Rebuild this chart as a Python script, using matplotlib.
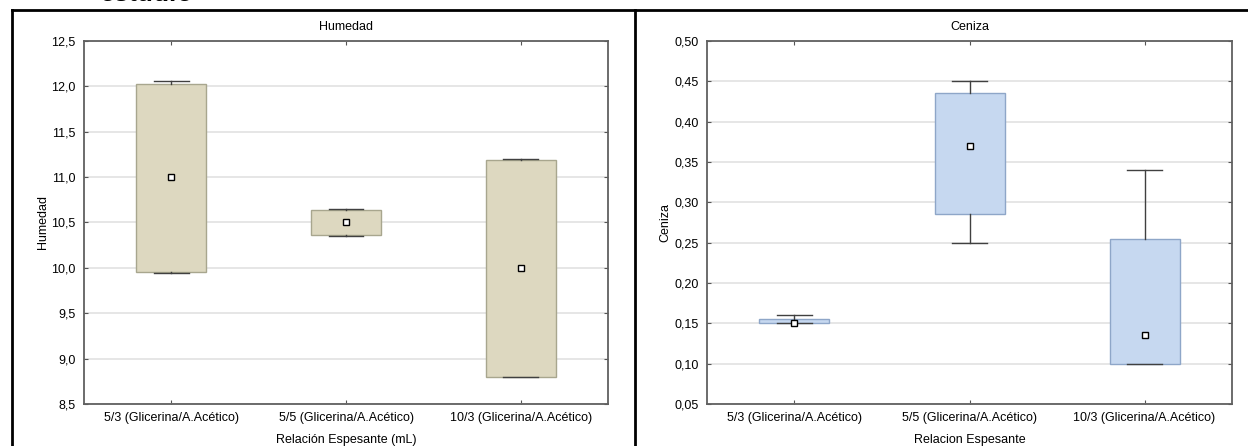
import matplotlib.pyplot as plt
from matplotlib.lines import Line2D
from matplotlib.ticker import FuncFormatter

plt.rcParams['font.family'] = ['Liberation Sans', 'DejaVu Sans']

grupos = ['5/3 (Glicerina/A.Acético)', '5/5 (Glicerina/A.Acético)', '10/3 (Glicerina/A.Acético)']

# Humedad: punto central, caja y rango
hum_centro = [11.0, 10.5, 10.0]
hum_q1 = [9.95, 10.36, 8.80]
hum_q3 = [12.03, 10.64, 11.19]
hum_min = [9.94, 10.35, 8.80]
hum_max = [12.06, 10.65, 11.20]

# Ceniza
cen_centro = [0.15, 0.37, 0.135]
cen_q1 = [0.15, 0.285, 0.10]
cen_q3 = [0.155, 0.435, 0.255]
cen_min = [0.15, 0.25, 0.10]
cen_max = [0.16, 0.45, 0.34]


def caja(ax, centro, q1, q3, lo, hi, relleno, borde):
    stats = [dict(med=c, q1=a, q3=b, whislo=l, whishi=h)
             for c, a, b, l, h in zip(centro, q1, q3, lo, hi)]
    ax.bxp(stats, positions=[1, 2, 3], widths=0.4, capwidths=0.2,
           showfliers=False, patch_artist=True,
           boxprops=dict(facecolor=relleno, edgecolor=borde, linewidth=1),
           whiskerprops=dict(color='#404040', linewidth=1),
           capprops=dict(color='#404040', linewidth=1),
           medianprops=dict(linewidth=0), zorder=3)
    ax.plot([1, 2, 3], centro, ls='none', marker='s', ms=4.5, mfc='white',
            mec='black', mew=1, zorder=4)


def estilo(ax, titulo, ylab, xlab, lims, paso, fmt):
    ax.set_xlim(0.5, 3.5)
    ax.set_ylim(*lims)
    n = round((lims[1] - lims[0]) / paso)
    ax.set_yticks([lims[0] + i * paso for i in range(n + 1)])
    ax.yaxis.set_major_formatter(FuncFormatter(lambda v, p: (fmt % v).replace('.', ',')))
    ax.set_xticks([1, 2, 3], grupos)
    ax.grid(axis='y', color='#e2e2e2', linewidth=1.2, zorder=0)
    ax.set_axisbelow(True)
    ax.tick_params(direction='in', length=3, top=True, right=True,
                   labelsize=9, color='#555555', pad=6)
    for s in ax.spines.values():
        s.set_color('#606060')
        s.set_linewidth(1.3)
    ax.set_title(titulo, fontsize=9, pad=8)
    ax.set_ylabel(ylab, fontsize=9, labelpad=2)
    ax.set_xlabel(xlab, fontsize=9, labelpad=7)


fig = plt.figure(figsize=(12.48, 4.46), dpi=100)
ax1 = fig.add_axes([0.0673, 0.0942, 0.4199, 0.8139])
ax2 = fig.add_axes([0.5665, 0.0942, 0.4207, 0.8139])

caja(ax1, hum_centro, hum_q1, hum_q3, hum_min, hum_max, '#ddd8c0', '#a8a68e')
estilo(ax1, 'Humedad', 'Humedad', 'Relación Espesante (mL)', (8.5, 12.5), 0.5, '%.1f')

caja(ax2, cen_centro, cen_q1, cen_q3, cen_min, cen_max, '#c6d8f0', '#8ea6c8')
estilo(ax2, 'Ceniza', 'Ceniza', 'Relacion Espesante', (0.05, 0.50), 0.05, '%.2f')

# bordes de la tabla del documento
W, H = 1248, 446
bordes = [((12, 1247), (10, 10)), ((12, 12), (10, 446)), ((635, 635), (10, 446))]
for xs, ys in bordes:
    fig.add_artist(Line2D([x / W for x in xs], [1 - y / H for y in ys],
                          color='black', linewidth=2))

fig.text(100 / W, 1 - 1 / H, 'estudio', fontsize=19, fontweight='bold',
         fontstyle='italic', va='baseline', ha='left')

fig.savefig('out.png', dpi=100)
